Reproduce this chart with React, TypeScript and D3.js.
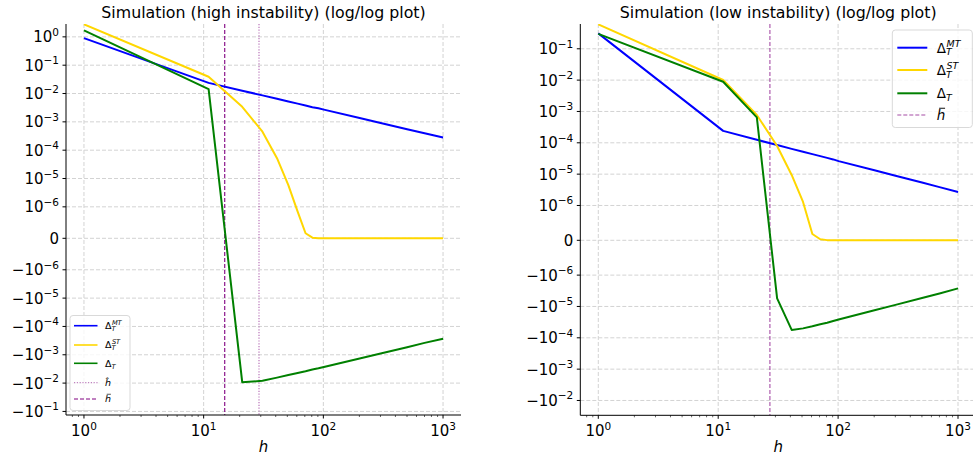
import * as d3 from 'd3'

const FONT = 'DejaVu Sans'

// sample points of h (same for both simulations)
const hValues = [1, 11, 21, 31, 41, 51, 61, 71, 81, 91, 101, 201, 301, 501, 701, 1001]

// high instability
const mtHigh = [0.9, 0.0238, 0.0126, 0.0086, 0.0065, 0.0052, 0.0044, 0.0038, 0.0033, 0.003, 0.0027, 0.00136, 0.00091, 0.00055, 0.000396, 0.00028]
const stHigh = [2.77, 0.039, 0.0034, 0.00045, 5.2e-5, 5.8e-6, 8.5e-7, 1.6e-7, 2e-8, 3e-9, 5e-10, 1e-12, 0, 0, 0, 0]
const totHigh = [1.7, 0.0144, -0.0093, -0.0083, -0.0064, -0.0052, -0.0044, -0.0038, -0.0033, -0.003, -0.0027, -0.00135, -0.0009, -0.00054, -0.00038, -0.00027]
const hBarHigh = 15
const hHatHigh = 29

// low instability
const mtLow = [0.31, 2.4e-4, 1.25e-4, 8.5e-5, 6.4e-5, 5.2e-5, 4.35e-5, 3.75e-5, 3.3e-5, 2.95e-5, 2.6e-5, 1.33e-5, 8.9e-6, 5.4e-6, 3.85e-6, 2.7e-6]
const stLow = [0.6, 0.0101, 7.7e-4, 7.9e-5, 9.4e-6, 1.3e-6, 1.8e-7, 3e-8, 5e-9, 1e-9, 2e-10, 0, 0, 0, 0, 0]
const totLow = [0.3, 0.0089, 6.5e-4, -5.5e-6, -5.6e-5, -5.0e-5, -4.3e-5, -3.7e-5, -3.3e-5, -2.9e-5, -2.6e-5, -1.33e-5, -8.9e-6, -5.4e-6, -3.85e-6, -2.65e-6]
const hBarLow = 27

// y tick exponents from top to bottom; null is the 0 tick, after it they are negative
const yTicksHigh = [0, -1, -2, -3, -4, -5, -6, null, -6, -5, -4, -3, -2, -1]
const yTicksLow = [-1, -2, -3, -4, -5, -6, null, -6, -5, -4, -3, -2]
const xTickExps = [0, 1, 2, 3]

const BLUE = '#0000ff'
const GOLD = '#ffd700'
const GREEN = '#008000'
const PURPLE = '#800080'

// matplotlib symlog, linthresh 1e-6, linscale 1
const LT = 1e-6
const ADJ = 1 / (1 - 1 / 10)
function symlog(v: number) {
  const a = Math.abs(v)
  const t = a <= LT ? (a / LT) * ADJ : ADJ + Math.log10(a / LT)
  return Math.sign(v) * t
}

function tickValues(exps: (number | null)[]) {
  const out: number[] = []
  let neg = false
  exps.forEach((e) => {
    if (e === null) {
      out.push(0)
      neg = true
    } else out.push((neg ? -1 : 1) * Math.pow(10, e))
  })
  return out
}

const expText = (e: number) => (e < 0 ? '−' + Math.abs(e) : String(e))

function MathLabel({kind, x, y, fs}: {kind: string; x: number; y: number; fs: number}) {
  const base = y + fs * 0.36
  const small = fs * 0.7
  if (kind === 'MT' || kind === 'ST' || kind === 'T') {
    return (
      <text x={x} y={base} fontSize={fs} fontFamily={FONT} fill="#000">
        Δ
        <tspan dy={fs * 0.2} fontSize={small} fontStyle="italic">T</tspan>
        {kind !== 'T' && (
          <tspan dx={-small * 0.55} dy={-fs * 0.62} fontSize={small} fontStyle="italic">{kind}</tspan>
        )}
      </text>
    )
  }
  if (kind === 'hat') {
    return (
      <text x={x} y={base} fontSize={fs} fontFamily={FONT} fontStyle="italic">ĥ</text>
    )
  }
  return (
    <g>
      <text x={x} y={base} fontSize={fs} fontFamily={FONT} fontStyle="italic">h</text>
      <line x1={x + fs * 0.18} x2={x + fs * 0.62} y1={base - fs * 0.86} y2={base - fs * 0.86} stroke="#000" strokeWidth={fs * 0.07} />
    </g>
  )
}

type LegendItem = {kind: string; color: string; dash?: string; width: number; opacity?: number}

function Panel(props: {
  id: string
  x0: number; x1: number; y0: number; y1: number
  tTop: number; tBottom: number
  title: string
  mt: number[]; st: number[]; tot: number[]
  yExps: (number | null)[]
  vlines: {h: number; dash: string; opacity: number}[]
  legend: {x: number; y: number; w: number; h: number; rows: number[]; lx0: number; lx1: number; tx: number; fs: number; items: LegendItem[]}
}) {
  const {x0, x1, y0, y1} = props
  const x = d3.scaleLog().domain([Math.pow(10, -0.15), Math.pow(10, 3.15)]).range([x0, x1])
  const yLin = d3.scaleLinear().domain([props.tBottom, props.tTop]).range([y1, y0])
  const y = (v: number) => yLin(symlog(v))

  const line = d3.line<number>().x((_, i) => x(hValues[i])).y((d) => y(d))

  const yTicks = tickValues(props.yExps)
  const minors: number[] = []
  for (let e = -1; e <= 3; e++) {
    for (let m = 2; m <= 9; m++) {
      const v = m * Math.pow(10, e)
      if (v >= x.domain()[0] && v <= x.domain()[1]) minors.push(v)
    }
  }

  const tickFs = 15
  const grid = '#d3d3d3'

  return (
    <g>
      <defs>
        <clipPath id={props.id}>
          <rect x={x0} y={y0} width={x1 - x0} height={y1 - y0} />
        </clipPath>
      </defs>
      {/* grid */}
      {xTickExps.map((e) => (
        <line key={'gx' + e} x1={x(Math.pow(10, e))} x2={x(Math.pow(10, e))} y1={y0} y2={y1} stroke={grid} strokeDasharray="4,2" strokeWidth={1} />
      ))}
      {yTicks.map((v, i) => (
        <line key={'gy' + i} x1={x0} x2={x1} y1={y(v)} y2={y(v)} stroke={grid} strokeDasharray="4,2" strokeWidth={1} />
      ))}

      {/* series */}
      <g clipPath={`url(#${props.id})`} fill="none" strokeLinejoin="round">
        {props.vlines.map((v, i) => (
          <line key={'v' + i} x1={x(v.h)} x2={x(v.h)} y1={y0} y2={y1} stroke={PURPLE} strokeOpacity={v.opacity} strokeDasharray={v.dash} strokeWidth={1.1} />
        ))}
        <path d={line(props.mt) || ''} stroke={BLUE} strokeWidth={2} />
        <path d={line(props.st) || ''} stroke={GOLD} strokeWidth={2} />
        <path d={line(props.tot) || ''} stroke={GREEN} strokeWidth={2} />
      </g>

      {/* spines */}
      <line x1={x0} x2={x0} y1={y0} y2={y1} stroke="#000" strokeWidth={1} />
      <line x1={x0} x2={x1} y1={y1} y2={y1} stroke="#000" strokeWidth={1} />

      {/* y ticks */}
      {yTicks.map((v, i) => {
        const e = props.yExps[i]
        const yy = y(v)
        return (
          <g key={'ty' + i}>
            <line x1={x0 - 3.5} x2={x0} y1={yy} y2={yy} stroke="#000" />
            {e === null ? (
              <text x={x0 - 7} y={yy + 5.5} textAnchor="end" fontSize={tickFs} fontFamily={FONT}>0</text>
            ) : (
              <text x={x0 - 7} y={yy + 5.5} textAnchor="end" fontSize={tickFs} fontFamily={FONT}>
                {v < 0 ? '−10' : '10'}
                <tspan dy={-6.5} fontSize={tickFs * 0.7}>{expText(e)}</tspan>
              </text>
            )}
          </g>
        )
      })}

      {/* x ticks */}
      {minors.map((v, i) => (
        <line key={'mx' + i} x1={x(v)} x2={x(v)} y1={y1} y2={y1 + 2} stroke="#000" strokeWidth={0.6} />
      ))}
      {xTickExps.map((e) => (
        <g key={'tx' + e}>
          <line x1={x(Math.pow(10, e))} x2={x(Math.pow(10, e))} y1={y1} y2={y1 + 3.5} stroke="#000" />
          <text x={x(Math.pow(10, e))} y={y1 + 21} textAnchor="middle" fontSize={tickFs} fontFamily={FONT}>
            10<tspan dy={-6.5} fontSize={tickFs * 0.7}>{e}</tspan>
          </text>
        </g>
      ))}

      <text x={(x0 + x1) / 2} y={452} textAnchor="middle" fontSize={15} fontFamily={FONT} fontStyle="italic">h</text>
      <text x={(x0 + x1) / 2} y={18} textAnchor="middle" fontSize={15.8} fontFamily={FONT}>{props.title}</text>

      {/* legend */}
      <rect x={props.legend.x} y={props.legend.y} width={props.legend.w} height={props.legend.h} rx={3} fill="#fff" fillOpacity={0.8} stroke="#d9d9d9" />
      {props.legend.items.map((it, i) => (
        <g key={'lg' + i}>
          <line x1={props.legend.lx0} x2={props.legend.lx1} y1={props.legend.rows[i]} y2={props.legend.rows[i]} stroke={it.color} strokeOpacity={it.opacity ?? 1} strokeWidth={it.width} strokeDasharray={it.dash} />
          <MathLabel kind={it.kind} x={props.legend.tx} y={props.legend.rows[i]} fs={props.legend.fs} />
        </g>
      ))}
    </g>
  )
}

export default function App() {
  return (
    <svg width={973} height={457} style={{position: 'absolute', left: 0, top: 0, background: '#fff'}}>
      <rect width={973} height={457} fill="#fff" />
      <Panel
        id="clipHigh"
        x0={66} x1={461} y0={24} y1={415}
        tTop={7.565} tBottom={-6.237}
        title="Simulation (high instability) (log/log plot)"
        mt={mtHigh} st={stHigh} tot={totHigh}
        yExps={yTicksHigh}
        vlines={[
          {h: hHatHigh, dash: '1.2,1.6', opacity: 0.6},
          {h: hBarHigh, dash: '4,2', opacity: 1},
        ]}
        legend={{
          x: 70, y: 315.5, w: 60, h: 95,
          rows: [325.7, 345, 363.3, 382.7, 399],
          lx0: 74, lx1: 97.5, tx: 105, fs: 9.5,
          items: [
            {kind: 'MT', color: BLUE, width: 1.6},
            {kind: 'ST', color: GOLD, width: 1.6},
            {kind: 'T', color: GREEN, width: 1.6},
            {kind: 'hat', color: PURPLE, width: 1, dash: '1.2,1.6', opacity: 0.6},
            {kind: 'bar', color: PURPLE, width: 1, dash: '4,2'},
          ],
        }}
      />
      <Panel
        id="clipLow"
        x0={580.3} x1={976} y0={24} y1={415.3}
        tTop={6.902} tBottom={-5.584}
        title="Simulation (low instability) (log/log plot)"
        mt={mtLow} st={stLow} tot={totLow}
        yExps={yTicksLow}
        vlines={[{h: hBarLow, dash: '4,2', opacity: 0.7}]}
        legend={{
          x: 892.3, y: 30, w: 80, h: 97.5,
          rows: [47.7, 70, 93.3, 115],
          lx0: 897.3, lx1: 927.3, tx: 936.7, fs: 13.5,
          items: [
            {kind: 'MT', color: BLUE, width: 2},
            {kind: 'ST', color: GOLD, width: 2},
            {kind: 'T', color: GREEN, width: 2},
            {kind: 'bar', color: PURPLE, width: 1.2, dash: '4,2', opacity: 0.7},
          ],
        }}
      />
    </svg>
  )
}
